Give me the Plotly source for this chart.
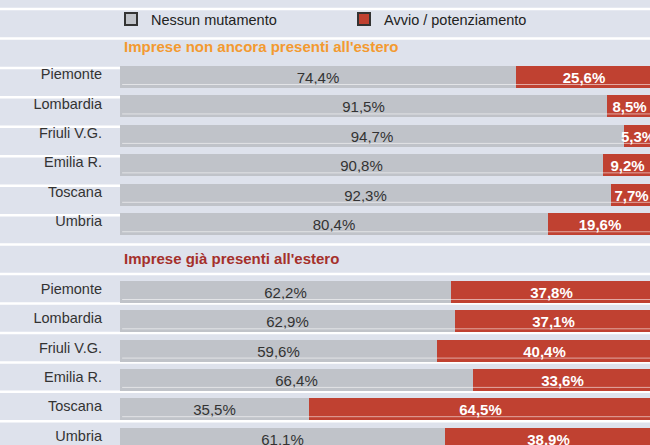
import plotly.graph_objects as go

# ---- data ----
regions = ["Piemonte", "Lombardia", "Friuli V.G.", "Emilia R.", "Toscana", "Umbria"]
nessun_non_presenti = [74.4, 91.5, 94.7, 90.8, 92.3, 80.4]
avvio_non_presenti = [25.6, 8.5, 5.3, 9.2, 7.7, 19.6]
nessun_presenti = [62.2, 62.9, 59.6, 66.4, 35.5, 61.1]
avvio_presenti = [37.8, 37.1, 40.4, 33.6, 64.5, 38.9]
series_names = ["Nessun mutamento", "Avvio / potenziamento"]
group_titles = ["Imprese non ancora presenti all'estero", "Imprese già presenti all'estero"]

# ---- style ----
W, H = 650, 445
BG = "#dee2ec"
GREY = "#c0c3c9"
RED = "#c04131"
FONT = "Liberation Sans, Arial, sans-serif"
LEFT = 120

# row layout (y axis expressed in screen pixels, reversed)
g1_start, g1_pitch = 77.0, 29.45
g2_start, g2_pitch = 292.0, 29.3
bar_h = 22
pos1 = [g1_start + i * g1_pitch for i in range(len(regions))]
pos2 = [g2_start + i * g2_pitch for i in range(len(regions))]
ypos = pos1 + pos2

def fmt(v):
    return f"{v:.1f}%".replace(".", ",")

nessun = nessun_non_presenti + nessun_presenti
avvio = avvio_non_presenti + avvio_presenti

fig = go.Figure()
fig.add_trace(go.Bar(
    y=ypos, x=nessun, orientation="h", width=bar_h,
    marker=dict(color=GREY, line=dict(width=0)),
    text=[fmt(v) for v in nessun], textposition="inside", insidetextanchor="middle",
    textangle=0, constraintext="none",
    textfont=dict(family=FONT, size=15, color="#333333"),
    showlegend=False, hoverinfo="skip",
))
fig.add_trace(go.Bar(
    y=ypos, x=avvio, orientation="h", width=bar_h,
    marker=dict(color=RED, line=dict(width=0)),
    text=["<b>" + fmt(v) + "</b>" for v in avvio], textposition="inside", insidetextanchor="middle",
    textangle=0, constraintext="none",
    textfont=dict(family=FONT, size=15, color="white"),
    showlegend=False, hoverinfo="skip",
))
# legend entries
for name, col in zip(series_names, [GREY, RED]):
    fig.add_trace(go.Bar(
        y=[None], x=[None], orientation="h", name=name,
        marker=dict(color=col, line=dict(color="#333333", width=2)),
        showlegend=True,
    ))

shapes = []
# white separator lines
for k in range(15):
    yy = 9 + 29.45 * k
    shapes.append(dict(type="line", xref="paper", yref="y", x0=0, x1=1, y0=yy, y1=yy,
                       line=dict(color="white", width=2.5), layer="below"))
# light line near bar bottoms
for yc in ypos:
    shapes.append(dict(type="line", xref="x", yref="y", x0=0.4, x1=100, y0=yc + 7.5, y1=yc + 7.5,
                       line=dict(color="rgba(255,255,255,0.55)", width=1), layer="above"))

annotations = [
    dict(text="<b>" + group_titles[0] + "</b>", xref="paper", yref="y", x=122 / W, y=46,
         xanchor="left", yanchor="middle", showarrow=False,
         font=dict(family=FONT, size=15, color="#f39a30")),
    dict(text="<b>" + group_titles[1] + "</b>", xref="paper", yref="y", x=122 / W, y=258,
         xanchor="left", yanchor="middle", showarrow=False,
         font=dict(family=FONT, size=15, color="#a5302b")),
]

fig.update_layout(
    width=W, height=H,
    margin=dict(l=0, r=0, t=0, b=0, autoexpand=False),
    paper_bgcolor=BG, plot_bgcolor=BG,
    barmode="stack", bargap=0,
    shapes=shapes, annotations=annotations,
    xaxis=dict(domain=[LEFT / W, 1], range=[0, 99.6], visible=False, fixedrange=True),
    yaxis=dict(range=[H, 0], tickvals=ypos, ticktext=regions + regions,
               showgrid=False, zeroline=False, showline=False, ticks="",
               ticklabelstandoff=17, ticklabelshift=3,
               tickfont=dict(family=FONT, size=14.5, color="#333333"), fixedrange=True),
    legend=dict(orientation="h", x=111 / W, y=1 - 19 / H, xanchor="left", yanchor="middle",
                entrywidth=188, entrywidthmode="pixels", bgcolor="rgba(0,0,0,0)",
                font=dict(family=FONT, size=14.5, color="#222222"), traceorder="normal"),
    showlegend=True,
)

fig.write_html("out.html", config={"displayModeBar": False},
               post_script="document.body.style.margin='0';document.body.style.overflow='hidden';")
